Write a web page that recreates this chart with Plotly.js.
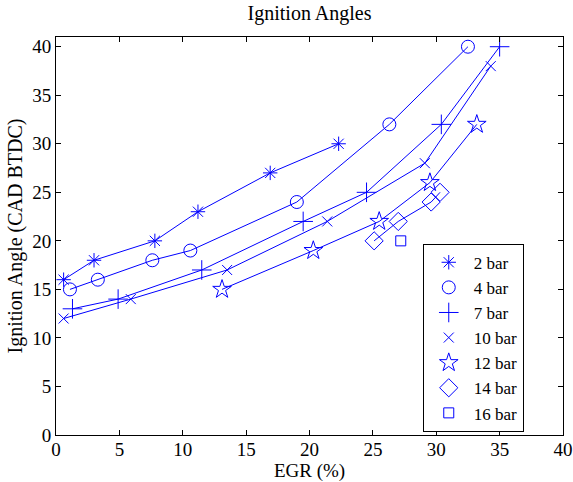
<!DOCTYPE html>
<html>
<head>
<meta charset="utf-8">
<script src="https://cdn.plot.ly/plotly-3.0.1.min.js"></script>
<style>html,body{margin:0;padding:0;background:#fff;}#chart{width:573px;height:482px;}</style>
</head>
<body>
<div id="chart"></div>
<script>
// Series data: EGR (%) vs ignition angle (CAD BTDC)
var seriesNames = ["2 bar", "4 bar", "7 bar", "10 bar", "12 bar", "14 bar", "16 bar"];
var egr2 = [0.6, 3.0, 7.8, 11.2, 16.9, 22.3];
var ign2 = [16, 18, 20, 23, 27, 30];
var egr4 = [1.1, 3.3, 7.6, 10.6, 19.0, 26.3, 32.5];
var ign4 = [15, 16, 18, 19, 24, 32, 40];
var egr7 = [1.3, 4.9, 11.5, 19.5, 24.5, 30.4, 35.0];
var ign7 = [13, 14, 17, 22, 25, 32, 40];
var egr10 = [0.6, 5.9, 13.5, 21.4, 29.1, 34.3];
var ign10 = [12, 14, 17, 22, 28, 38];
var egr12 = [13.1, 20.3, 25.5, 29.5, 33.2];
var ign12 = [15, 19, 22, 26, 32];
var egr14 = [25.1, 27.0, 29.6, 30.3];
var ign14 = [20, 22, 24, 25];
var egr16 = [27.2];
var ign16 = [20];
var xTicks = [0, 5, 10, 15, 20, 25, 30, 35, 40];
var yTicks = [0, 5, 10, 15, 20, 25, 30, 35, 40];

var xs = [egr2, egr4, egr7, egr10, egr12, egr14, egr16];
var ys = [ign2, ign4, ign7, ign10, ign12, ign14, ign16];
var symbols = ["asterisk-open", "circle-open", "cross-thin-open", "x-thin-open", "star-open", "diamond-open", "square-open"];
var sizes = [12, 13, 14, 10, 14, 14, 10];
var blue = "rgb(0,0,255)";

var traces = [];
for (var i = 0; i < seriesNames.length; i++) {
  traces.push({
    x: xs[i], y: ys[i], type: "scatter", mode: "lines",
    line: {color: blue, width: 1}, showlegend: false, hoverinfo: "skip"
  });
}
for (var j = 0; j < seriesNames.length; j++) {
  traces.push({
    x: xs[j], y: ys[j], type: "scatter", mode: "markers", name: seriesNames[j],
    marker: {symbol: symbols[j], size: sizes[j], color: blue, line: {color: blue, width: 1}}
  });
}

var fam = '"Liberation Serif", "Times New Roman", Times, serif';
var layout = {
  width: 573, height: 482,
  margin: {l: 56, r: 10, t: 37, b: 47, pad: 0},
  paper_bgcolor: "#fff", plot_bgcolor: "#fff",
  font: {family: fam, color: "#000", size: 19},
  title: {text: "Ignition Angles", font: {family: fam, size: 20, color: "#000"},
          x: 0.5, xref: "paper", xanchor: "center", y: 0.972, yanchor: "middle"},
  xaxis: {
    range: [0, 40], tickvals: xTicks, ticktext: xTicks.map(String),
    showgrid: false, zeroline: false, showline: true, linecolor: "#000", linewidth: 1,
    mirror: "ticks", ticks: "inside", ticklen: 5, tickcolor: "#000",
    ticklabelstandoff: -3,
    tickfont: {family: fam, size: 19, color: "#000"},
    title: {text: "EGR (%)", font: {family: fam, size: 19, color: "#000"}, standoff: 6}
  },
  yaxis: {
    range: [0, 41], tickvals: yTicks, ticktext: yTicks.map(String),
    showgrid: false, zeroline: false, showline: true, linecolor: "#000", linewidth: 1,
    mirror: "ticks", ticks: "inside", ticklen: 5, tickcolor: "#000",
    tickfont: {family: fam, size: 19, color: "#000"},
    title: {text: "Ignition Angle (CAD BTDC)", font: {family: fam, size: 20, color: "#000"}, standoff: 4}
  },
  legend: {
    x: 0.7234, y: 0.4806, xanchor: "left", yanchor: "top",
    bgcolor: "#fff", bordercolor: "#000", borderwidth: 1,
    font: {family: fam, size: 17, color: "#000"},
    itemsizing: "trace", itemwidth: 40,
    tracegroupgap: 0
  },
  showlegend: true
};

Plotly.newPlot("chart", traces, layout, {staticPlot: true, displayModeBar: false});
</script>
</body>
</html>
